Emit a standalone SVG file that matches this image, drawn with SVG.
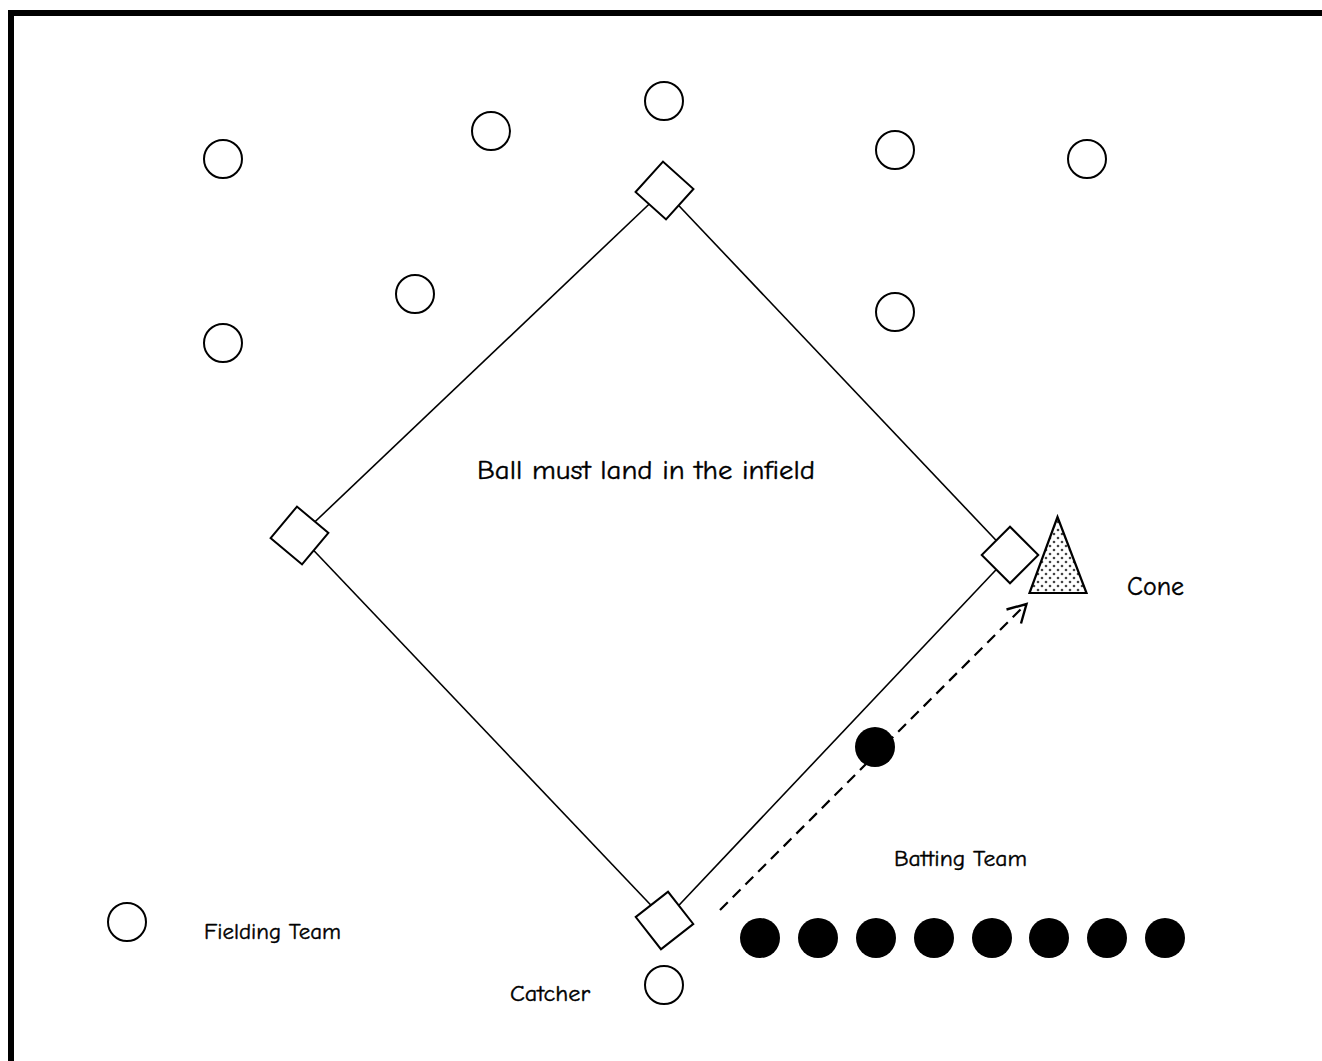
<svg xmlns="http://www.w3.org/2000/svg" width="1322" height="1061" viewBox="0 0 1322 1061">
<style>
.line{stroke:#000;stroke-width:1.6;fill:none}
.base{fill:#fff;stroke:#000;stroke-width:2}
.open{fill:#fff;stroke:#000;stroke-width:2}
.ball{fill:#000}
.lbl{font-family:"Comic Neue","Liberation Sans","DejaVu Sans",sans-serif;fill:#000;stroke:#000;stroke-width:0.4}
</style>
<defs>
<pattern id="dots" width="8" height="8" patternUnits="userSpaceOnUse">
<rect width="8" height="8" fill="#fff"/>
<circle cx="2" cy="2" r="1.3" fill="#444"/>
<circle cx="6" cy="6" r="1.3" fill="#444"/>
</pattern>
</defs>
<rect width="1322" height="1061" fill="#fff"/>
<g id="border">
<path d="M11,1061 L11,13 L1322,13" fill="none" stroke="#000" stroke-width="6"/>
</g>
<g id="connectors">
<line class="line" x1="664" y1="190" x2="300" y2="536"/>
<line class="line" x1="664" y1="190" x2="1010" y2="555"/>
<line class="line" x1="300" y1="536" x2="665" y2="920"/>
<line class="line" x1="665" y1="920" x2="1010" y2="555"/>
<line x1="720" y1="910" x2="1025" y2="605" stroke="#000" stroke-width="2.2" stroke-dasharray="11,7"/>
<path d="M1006.5,609.5 L1026.5,604 L1021,623.5" fill="none" stroke="#000" stroke-width="2.4"/>
</g>
<g id="second-base"><rect class="base" x="644" y="170" width="41" height="41" transform="rotate(42 664.5 190.5)"/></g>
<g id="third-base"><rect class="base" x="279" y="515" width="41" height="41" transform="rotate(40 299.5 535.5)"/></g>
<g id="home-plate"><rect class="base" x="644" y="900" width="41" height="41" transform="rotate(-38 664.5 920.5)"/></g>
<g id="first-base"><rect class="base" x="990" y="535" width="40" height="40" transform="rotate(45 1010 555)"/></g>
<g id="cone"><polygon points="1057.5,517 1029.5,593 1086.5,593" fill="url(#dots)" stroke="#000" stroke-width="2.2"/></g>
<g id="fielders">
<circle class="open" cx="223" cy="159" r="19"/>
<circle class="open" cx="491" cy="131" r="19"/>
<circle class="open" cx="664" cy="101" r="19"/>
<circle class="open" cx="895" cy="150" r="19"/>
<circle class="open" cx="1087" cy="159" r="19"/>
<circle class="open" cx="415" cy="294" r="19"/>
<circle class="open" cx="895" cy="312" r="19"/>
<circle class="open" cx="223" cy="343" r="19"/>
</g>
<g id="legend-fielder"><circle class="open" cx="127" cy="922" r="19"/></g>
<g id="catcher"><circle class="open" cx="664" cy="985" r="19"/></g>
<g id="runner"><circle class="ball" cx="875" cy="747" r="20"/></g>
<g id="batting-team">
<circle class="ball" cx="760" cy="938" r="20"/>
<circle class="ball" cx="818" cy="938" r="20"/>
<circle class="ball" cx="876" cy="938" r="20"/>
<circle class="ball" cx="934" cy="938" r="20"/>
<circle class="ball" cx="992" cy="938" r="20"/>
<circle class="ball" cx="1049" cy="938" r="20"/>
<circle class="ball" cx="1107" cy="938" r="20"/>
<circle class="ball" cx="1165" cy="938" r="20"/>
</g>
<g id="labels">
<text class="lbl" x="477" y="479" font-size="27" textLength="338" lengthAdjust="spacingAndGlyphs">Ball must land in the infield</text>
<text class="lbl" x="1127" y="595" font-size="27" textLength="57" lengthAdjust="spacingAndGlyphs">Cone</text>
<text class="lbl" x="894" y="866" font-size="22" textLength="133" lengthAdjust="spacingAndGlyphs">Batting Team</text>
<text class="lbl" x="204" y="939" font-size="22" textLength="137" lengthAdjust="spacingAndGlyphs">Fielding Team</text>
<text class="lbl" x="510" y="1001" font-size="22" textLength="80" lengthAdjust="spacingAndGlyphs">Catcher</text>
</g>
</svg>
